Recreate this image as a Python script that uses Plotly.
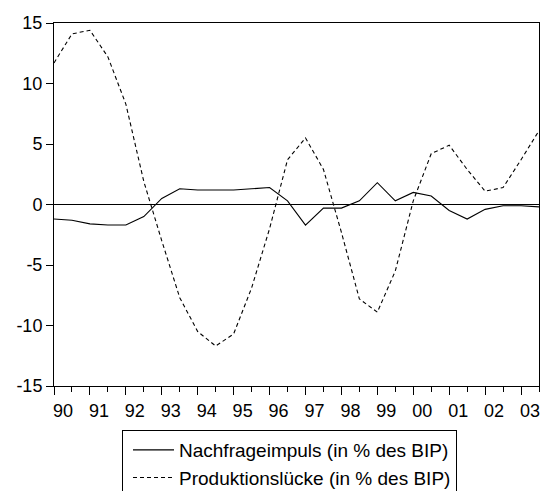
import plotly.graph_objects as go

# Semi-annual observations 1990H1 .. 2003H2
periods = [1990 + 0.5 * i for i in range(28)]

nachfrageimpuls = [
    -1.2, -1.3, -1.6, -1.7, -1.7, -1.0, 0.5, 1.3, 1.2, 1.2,
    1.2, 1.3, 1.4, 0.3, -1.7, -0.3, -0.3, 0.3, 1.8, 0.3,
    1.0, 0.7, -0.5, -1.2, -0.4, -0.1, -0.1, -0.2,
]

produktionsluecke = [
    11.7, 14.1, 14.4, 12.2, 8.3, 1.9, -3.0, -7.7, -10.5, -11.7,
    -10.7, -6.9, -2.0, 3.7, 5.5, 2.9, -2.3, -7.8, -8.9, -5.5,
    0.3, 4.2, 4.9, 2.9, 1.1, 1.4, 3.7, 6.1,
]

year_ticks = list(range(1990, 2004))
year_labels = ["90", "91", "92", "93", "94", "95", "96", "97", "98", "99",
               "00", "01", "02", "03"]
y_ticks = [-15, -10, -5, 0, 5, 10, 15]

series_names = ["Nachfrageimpuls (in % des BIP)",
                "Produktionslücke (in % des BIP)"]

FONT = "Arial, Liberation Sans, sans-serif"

fig = go.Figure()
fig.add_trace(go.Scatter(
    x=periods, y=nachfrageimpuls, mode="lines", name=series_names[0],
    line=dict(color="black", width=1.1),
))
fig.add_trace(go.Scatter(
    x=periods, y=produktionsluecke, mode="lines", name=series_names[1],
    line=dict(color="black", width=1.1, dash="4px,3px"),
))

# zero line
fig.add_hline(y=0, line=dict(color="black", width=1))

fig.update_layout(
    width=542, height=491,
    margin=dict(l=54, r=3, t=23, b=105, autoexpand=False),
    paper_bgcolor="white", plot_bgcolor="white",
    font=dict(family=FONT, size=18, color="black"),
    showlegend=True,
    legend=dict(
        xref="container", yref="container",
        x=122 / 542, y=1 - 430 / 491, xanchor="left", yanchor="top",
        bordercolor="black", borderwidth=1, bgcolor="white",
        font=dict(family=FONT, size=19, color="black"),
        tracegroupgap=0, itemwidth=41, indentation=5,
        entrywidth=299,
    ),
)

fig.update_xaxes(
    range=[1990, 2003.5], automargin=False,
    tickvals=year_ticks, ticktext=year_labels,
    ticks="outside", ticklen=8, tickwidth=1, tickcolor="black",
    ticklabelshift=9,
    minor=dict(dtick=0.5, tick0=1990, ticks="outside", ticklen=5,
               tickwidth=1, tickcolor="black", showgrid=False),
    showgrid=False, zeroline=False,
    showline=True, linecolor="black", linewidth=1, mirror=True,
    tickfont=dict(size=18),
)
fig.update_yaxes(
    range=[-15, 15], automargin=False,
    tickvals=y_ticks, ticktext=[str(v) for v in y_ticks],
    ticks="outside", ticklen=7, tickwidth=1, tickcolor="black",
    showgrid=False, zeroline=False,
    showline=True, linecolor="black", linewidth=1, mirror=True,
    tickfont=dict(size=18),
)

fig.write_html(
    "out.html",
    config={"displayModeBar": False},
    post_script="document.body.style.margin='0';document.body.style.overflow='hidden';",
)
